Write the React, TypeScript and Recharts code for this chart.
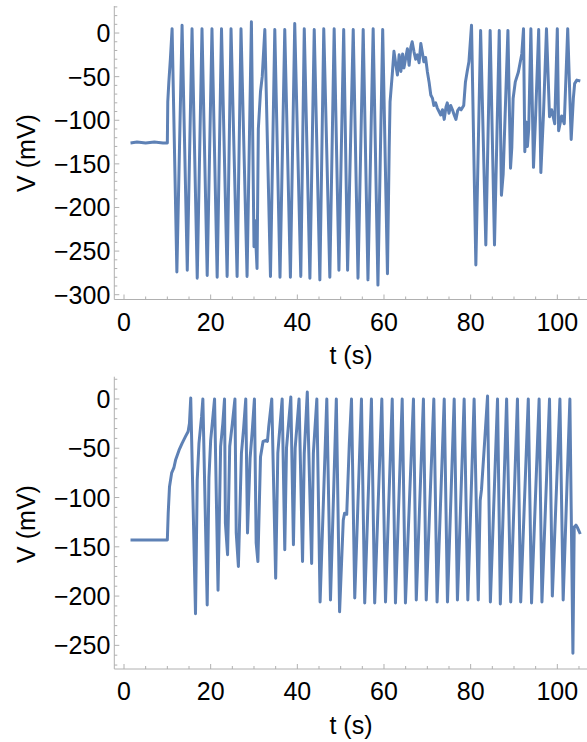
import { LineChart, Line, XAxis, YAxis } from "recharts";

type Pt = [number, number];

const BLUE = "#5e81b5";
const AXIS = "#b0b0b0";
const FONT = "'Liberation Sans', Arial, sans-serif";

// tick positions (majors get a label)
const xTicks = [0, 5, 10, 15, 20, 25, 30, 35, 40, 45, 50, 55, 60, 65, 70, 75, 80, 85, 90, 95, 100, 105];
const topYTicks = [-300, -290, -280, -270, -260, -250, -240, -230, -220, -210, -200, -190, -180, -170, -160, -150, -140, -130, -120, -110, -100, -90, -80, -70, -60, -50, -40, -30, -20, -10, 0, 10, 20, 30];
const bottomYTicks = [-270, -260, -250, -240, -230, -220, -210, -200, -190, -180, -170, -160, -150, -140, -130, -120, -110, -100, -90, -80, -70, -60, -50, -40, -30, -20, -10, 0, 10, 20];

// top trace, [t (s), V (mV)]
const topRest: Pt[] = [[1.5, -126], [3, -125], [5, -126], [7, -125], [9, -126], [10.0, -126]];
const topRamp: Pt[] = [[10.1, -79], [10.35, -56], [10.7, -30], [11.1, 5]];
const topBurstA: Pt[] = [
  [12.2, -274], [13.4, 9], [14.6, -272], [15.7, 5], [16.9, -281], [18.0, 5], [19.2, -278], [20.3, 5],
  [21.5, -280], [22.5, 5], [23.8, -279], [24.7, 5], [26.1, -279], [27.0, 5], [28.4, -279], [29.4, 13],
  [30.0, -245], [30.2, -215], [30.7, -270], [31.0, -110], [31.5, -67], [31.9, -50], [32.5, 4],
  [33.8, -279], [34.8, 4], [36.0, -280], [37.1, 4], [38.4, -280], [39.4, 11], [40.8, -279], [41.6, 5],
  [42.9, -281], [43.9, 4], [45.2, -283], [46.1, 5], [47.5, -280], [48.5, 5], [49.6, -272], [50.7, 4],
  [51.6, -272], [52.9, 4], [54.0, -281], [55.2, 4], [56.3, -283], [57.5, 5], [58.6, -289], [59.7, 4],
  [60.8, -276],
];
const topPlateau: Pt[] = [
  [61.2, -132], [61.4, -79], [61.9, -48], [62.3, -21], [62.7, -35], [63.1, -48], [63.5, -25], [63.9, -44],
  [64.3, -24], [64.6, -40], [65.0, -29], [65.4, -18], [65.8, -37], [66.2, -16], [66.5, -10], [66.9, -21],
  [67.3, -30], [67.7, -25], [68.1, -34], [68.5, -12], [68.8, -21], [69.2, -33], [69.6, -28], [70.0, -44],
  [70.4, -56], [70.8, -71], [71.2, -75], [71.5, -83], [71.9, -80], [72.3, -86], [72.7, -90], [73.1, -94],
  [73.5, -88], [73.9, -99], [74.3, -85], [74.6, -80], [75.0, -92], [75.4, -83], [75.8, -88], [76.2, -94],
  [76.6, -99], [77.0, -89], [77.4, -86], [77.8, -88], [78.4, -83], [78.8, -56], [79.2, -44], [79.6, -33],
  [80.2, 9],
];
const topBurstB: Pt[] = [
  [81.2, -266], [82.3, 3], [83.5, -243], [84.5, 3], [85.5, -243], [86.6, 3], [87.1, -186], [87.5, -162],
  [88.6, 3], [89.2, -155], [89.5, -131], [89.8, -75], [90.3, -56], [91.0, -45], [91.8, -24], [92.2, 5],
  [92.5, -136], [92.8, -102], [93.1, -130], [93.4, -110], [93.9, 5], [94.5, -154], [95.0, -94], [95.7, 4],
  [96.2, -160], [96.8, -94], [97.5, 5], [98.2, -96], [98.7, -88], [99.4, -104], [100.0, 5], [100.3, -112],
  [101.0, -95], [101.6, -104], [102.4, 5], [103.2, -122], [103.7, -75], [104.0, -58], [104.5, -54], [105.3, -55],
];

// bottom trace
const bottomRest: Pt[] = [[1.5, -143], [4, -143], [7, -143], [10.0, -143]];
const bottomRamp: Pt[] = [
  [10.2, -116], [10.5, -89], [11.0, -75], [11.5, -70], [11.9, -62], [12.7, -52], [13.4, -45], [14.2, -38],
  [14.8, -33], [15.1, -25], [15.4, 1],
];
const bottomEarly: Pt[] = [
  [16.5, -218], [16.9, -82], [17.3, -45], [17.9, -18], [18.2, 0],
  [19.2, -209], [19.6, -80], [20.0, -42], [20.6, -14], [20.9, 0],
  [21.7, -194], [22.3, -48], [22.8, -25], [23.2, 0],
  [23.4, -126], [23.9, -158], [24.4, -48], [25.0, -25], [25.6, 0],
  [25.9, -136], [26.4, -170], [27.1, -55], [27.6, -30], [28.1, 0],
  [28.5, -136], [29.1, -60], [29.6, -32], [30.1, 0],
  [30.5, -146], [30.9, -165], [31.5, -59], [32.1, -43], [32.7, -42], [33.1, -43], [33.4, -28], [34.1, 0],
  [35.0, -182], [35.5, -55], [36.5, 0],
  [37.1, -153], [37.5, -50], [38.5, 2],
  [39.1, -148], [39.5, -50], [40.4, 0],
  [41.2, -165], [41.6, -55], [42.3, 7],
  [43.3, -167], [43.7, -55], [44.5, 0],
];
const bottomRegular: Pt[] = [
  [45.25, -206], [46.8, 0], [47.65, -204], [49.0, 0],
  [49.75, -216], [50.6, -123], [50.9, -116], [51.4, -117], [52.0, -45], [52.5, 0],
  [53.25, -202], [54.8, 0], [55.55, -207], [57.1, 0], [57.85, -207], [59.5, 0], [60.35, -206], [61.9, 0],
  [62.65, -207], [64.2, 0], [64.95, -207], [66.8, 0], [67.45, -204], [69.1, 0], [69.75, -204], [71.5, 0],
  [72.25, -206], [73.9, 0], [74.65, -206], [76.2, 0], [76.95, -204], [78.5, 0], [79.35, -204], [80.8, 0],
  [81.75, -204], [82.2, -103], [82.5, -92], [83.2, -45], [83.9, 3],
  [84.55, -206], [86.2, 0], [86.85, -208], [88.3, 0], [89.25, -206], [90.8, 0], [91.55, -206], [93.3, 0],
  [94.05, -207], [95.8, 0], [96.45, -206], [98.2, 0], [98.85, -200], [100.6, 0], [101.35, -204], [102.9, 0],
  [103.6, -258], [103.9, -130], [104.3, -128], [104.7, -131], [105.3, -137],
];

const toRows = (pts: Pt[]) => pts.map(([t, v]) => ({ t, v }));
const topData = toRows([...topRest, ...topRamp, ...topBurstA, ...topPlateau, ...topBurstB]);
const bottomData = toRows([...bottomRest, ...bottomRamp, ...bottomEarly, ...bottomRegular]);

const fmt = (v: number) => (v < 0 ? "\u2212" + Math.abs(v) : String(v));

function XTick({ x, y, payload }: any) {
  const major = payload.value % 20 === 0;
  return (
    <g>
      <line x1={x} x2={x} y1={y} y2={y - (major ? 5 : 3)} stroke={AXIS} />
      {major && (
        <text x={x} y={y + 31} textAnchor="middle" fontSize={25} fontFamily={FONT} fill="#000">
          {fmt(payload.value)}
        </text>
      )}
    </g>
  );
}

function YTick({ x, y, payload }: any) {
  const major = payload.value % 50 === 0;
  return (
    <g>
      <line x1={x} x2={x + (major ? 5 : 3)} y1={y} y2={y} stroke={AXIS} />
      {major && (
        <text x={x - 4} y={y + 9} textAnchor="end" fontSize={25} fontFamily={FONT} fill="#000">
          {fmt(payload.value)}
        </text>
      )}
    </g>
  );
}

function Panel({ data, yDomain, yTicks, height, top, xAxisHeight }: any) {
  return (
    <LineChart width={587} height={height} data={data} margin={{ top, right: 0, bottom: 0, left: 0 }}>
      <XAxis
        dataKey="t"
        type="number"
        domain={[-2.24, 106.85]}
        ticks={xTicks}
        interval={0}
        height={xAxisHeight}
        axisLine={{ stroke: AXIS }}
        tickLine={false}
        tickSize={0}
        tickMargin={0}
        tick={(p: any) => <XTick {...p} />}
        allowDataOverflow
      />
      <YAxis
        type="number"
        domain={yDomain}
        ticks={yTicks}
        interval={0}
        width={114.3}
        axisLine={{ stroke: AXIS }}
        tickLine={false}
        tickSize={0}
        tickMargin={0}
        tick={(p: any) => <YTick {...p} />}
        allowDataOverflow
      />
      <Line
        dataKey="v"
        type="linear"
        stroke={BLUE}
        strokeWidth={3}
        strokeLinejoin="round"
        dot={false}
        isAnimationActive={false}
      />
    </LineChart>
  );
}

export default function App() {
  const title = { fontSize: 25, fontFamily: FONT, fill: "#000" };
  return (
    <div style={{ position: "absolute", left: 0, top: 0, width: 587, height: 742, background: "#fff" }}>
      <Panel data={topData} yDomain={[-305.5, 31]} yTicks={topYTicks} height={370} top={6} xAxisHeight={70.5} />
      <Panel data={bottomData} yDomain={[-274, 22.6]} yTicks={bottomYTicks} height={372} top={6.7} xAxisHeight={73} />
      <svg width={587} height={742} style={{ position: "absolute", left: 0, top: 0, pointerEvents: "none" }}>
        <text {...title} x={35} y={153} textAnchor="middle" transform="rotate(-90 35 153)">V (mV)</text>
        <text {...title} x={351} y={364} textAnchor="middle">t (s)</text>
        <text {...title} x={35} y={524} textAnchor="middle" transform="rotate(-90 35 524)">V (mV)</text>
        <text {...title} x={351} y={734} textAnchor="middle">t (s)</text>
      </svg>
    </div>
  );
}
